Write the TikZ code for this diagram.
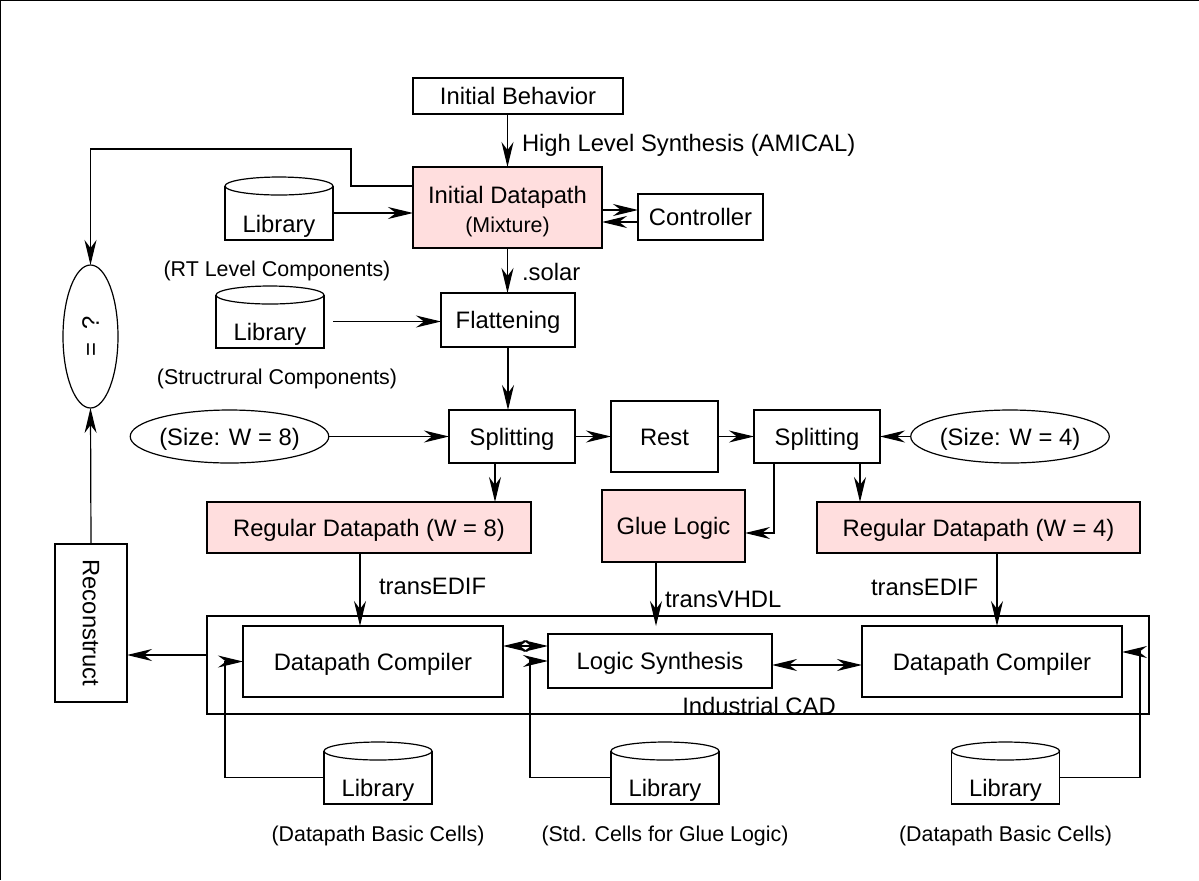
\documentclass[tikz,border=0pt]{standalone}
\usepackage{fontspec}
\setmainfont{Liberation Sans}
\usetikzlibrary{arrows.meta,shapes.geometric,calc}
\definecolor{dppink}{RGB}{255,222,222}
\newcommand\labfont{\fontsize{11.9pt}{14pt}\selectfont}
\newcommand\notefont{\fontsize{10.7pt}{13pt}\selectfont}
% a library drum: name, centre x, y of the top ellipse, y of the bottom
\newcommand\libdrum[4]{%
  \node[libbody, minimum height={(#4-#3)*0.5pt}] (#1) at (#2,{(#3+#4)/2}) {Library};
  \draw (#1.north west) -- (#1.south west) -- (#1.south east) -- (#1.north east);
  \draw (#1.north) ellipse [x radius=27pt, y radius=4.5pt];
}
\tikzset{>={Stealth[length=12.5pt,width=6pt,inset=4pt]}}
\begin{document}
\begin{tikzpicture}[x=0.5pt,y=-0.5pt,line width=0.6pt,
  every node/.style={inner sep=0pt, outer sep=0pt},
  dims/.style 2 args={minimum width=#1*0.5pt, minimum height=#2*0.5pt},
  box/.style={draw, rectangle, font=\labfont, text height=8.5pt, text depth=0pt, align=center},
  pinkbox/.style={box, fill=dppink},
  oval/.style={draw, ellipse, font=\labfont, text height=8.5pt, text depth=0pt},
  libbody/.style={rectangle, minimum width=54pt, font=\labfont, text height=19.3pt, text depth=0pt},
  tag/.style={font=\labfont, text height=8.5pt, text depth=0pt},
  note/.style={font=\notefont, text height=7.7pt, text depth=0pt},
  free/.style={text height={}, text depth={}},
  arr/.style={->},
  dblarr/.style={<->}]
\useasboundingbox (0,0) rectangle (1199,880);
% outer frame
\draw (0.6,880) -- (0.6,0.6) -- (1199,0.6);

% top part
\node[box, dims={210}{36}] (ib) at (518,96) {Initial Behavior};
\node[pinkbox, dims={189}{81}] (idp) at (507.5,207.5) {};
\node[font=\labfont, align=center] (idptext) at (507.5,212)
  {Initial Datapath\\[0.5pt]{\notefont (Mixture)}};
\node[box, dims={125}{46}] (ctl) at (700.5,217) {Controller};
\node[box, dims={134}{54}] (flat) at (508,320) {Flattening};
\libdrum{lib1}{279}{186}{240}
\libdrum{lib2}{270}{295}{348}
\node[note] (rtl) at (277,269) {(RT Level Components)};
\node[note] (strc) at (277,377) {(Structrural Components)};
\node[tag, anchor=west] (hls) at (522,143) {High Level Synthesis (AMICAL)};
\node[tag, anchor=west] (solar) at (522,272) {.solar};

% comparison and reconstruction column
\node[draw, ellipse, dims={55}{143}, font=\labfont, free] (eq) at (90.5,336.5) {\rotatebox{90}{=\ \ ?}};
\node[box, dims={72}{158}, free] (rec) at (91,623) {\rotatebox{-90}{Reconstruct}};

% splitting stage
\node[oval, dims={173}{53}] (e8) at (229.5,436.5) {(Size: W = 8)};
\node[box, dims={126}{53}] (sp1) at (512,436.5) {Splitting};
\node[box, dims={107}{71}] (rest) at (664.5,436.5) {Rest};
\node[box, dims={126}{53}] (sp2) at (817,436.5) {Splitting};
\node[oval, dims={170}{53}] (e4) at (1010,436.5) {(Size: W = 4)};

\node[pinkbox, dims={324}{51}] (rdp8) at (369,527.5) {Regular Datapath (W = 8)};
\node[pinkbox, dims={143}{72}] (glue) at (673.5,526) {Glue Logic};
\node[pinkbox, dims={323}{51}] (rdp4) at (978.5,527.5) {Regular Datapath (W = 4)};

% industrial CAD tools
\node[draw, rectangle, dims={942}{98}] (cad) at (678,665) {};
\node[tag, anchor=base, xshift=40.5pt, free] (cadlbl) at (cad.south) {Industrial CAD};
\node[box, dims={260}{71}] (dc1) at (373,661.5) {Datapath Compiler};
\node[box, dims={224}{54}] (ls) at (660,661) {Logic Synthesis};
\node[box, dims={260}{71}] (dc2) at (992,661.5) {Datapath Compiler};

% cell libraries
\libdrum{blib1}{378}{751}{804}
\libdrum{blib2}{665}{751}{804}
\libdrum{blib3}{1005.5}{751}{804}
\node[note] (bl1) at (378,834) {(Datapath Basic Cells)};
\node[note] (bl2) at (665,834) {(Std. Cells for Glue Logic)};
\node[note] (bl3) at (1005.5,834) {(Datapath Basic Cells)};

% connectors, top
\draw[arr] (ib.south -| idp.north) -- (idp.north);
\draw[arr] (idp.south) -- (idp.south |- flat.north);
\coordinate (cu) at ([yshift=3.5pt]ctl.west);
\coordinate (cl) at ([yshift=-2.5pt]ctl.west);
\draw[arr] (idp.east |- cu) -- (cu);
\draw[arr] (cl) -- (idp.east |- cl);
\draw[arr] ([yshift=10.75pt]idp.west) -- ++(-62,0) -- ++(0,-37) -| (eq.north);
\draw[arr] (lib1.east) -- (idp.west |- lib1.east);
\draw[arr] ([xshift=4.5pt]lib2.east) -- (flat.west |- lib2.east);
\draw[arr] (flat.south) -- (flat.south |- sp1.north);

% connectors, splitting
\draw[arr] (e8.east) -- (sp1.west);
\draw[arr] (sp1.east) -- (rest.west);
\draw[arr] (rest.east) -- (sp2.west);
\draw[arr] (e4.west) -- (sp2.east);
\coordinate (s1) at ([xshift=-8.5pt]sp1.south);
\draw[arr] (s1) -- (s1 |- rdp8.north);
\coordinate (s2) at ([xshift=21.5pt]sp2.south);
\draw[arr] (s2) -- (s2 |- rdp4.north);
\draw[arr] ([xshift=-21.5pt]sp2.south) |- ([yshift=-3.5pt]glue.east);

% connectors into the CAD tools
\coordinate (t1) at ([xshift=-4.5pt]rdp8.south);
\draw[arr] (t1) -- (t1 |- dc1.north);
\coordinate (t2) at ([xshift=-8.75pt]glue.south);
\draw[arr] (t2) -- (t2 |- dc1.north);
\coordinate (t3) at ([xshift=9.25pt]rdp4.south);
\draw[arr] (t3) -- (t3 |- dc2.north);
\node[tag, anchor=west] (te1) at (379,586) {transEDIF};
\node[tag, anchor=west] (tv) at (665,599) {transVHDL};
\node[tag, anchor=west] (te2) at (871,587) {transEDIF};

\coordinate (m1) at ([yshift=7.5pt]ls.west);
\draw[dblarr] (dc1.east |- m1) -- (m1);
\coordinate (m2) at ([yshift=-2pt]ls.east);
\draw[dblarr] (m2) -- (dc2.west |- m2);

% reconstruction feedback
\coordinate (cw) at ([yshift=5pt]cad.west);
\draw[arr] (cw) -- (rec.east |- cw);
\draw[arr] (rec.north) -- (eq.south);

% libraries feeding the tools
\draw[arr] (blib1.west) -| ([xshift=-9pt]dc1.west) -- (dc1.west);
\draw[arr] (blib2.west) -| ([xshift=-9pt]ls.west) -- (ls.west);
\coordinate (r3) at ([yshift=4.75pt]dc2.east);
\draw[arr] (blib3.east) -| ([xshift=9pt]r3) -- (r3);
\end{tikzpicture}
\end{document}
